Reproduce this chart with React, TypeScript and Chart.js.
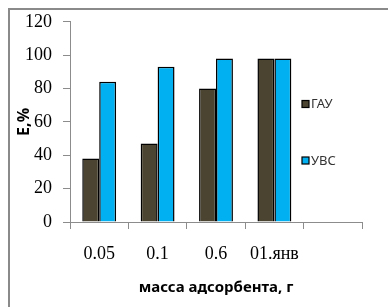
import React, { useEffect, useRef } from "react";
import { Chart, registerables } from "chart.js";

Chart.register(...registerables);

const categories = ["0.05", "0.1", "0.6", "01.янв", ""];
const gauValues = [38, 47, 80, 98, null];
const uvsValues = [84, 93, 98, 98, null];
const seriesNames = ["ГАУ", "УВС"];
const yTicks = [0, 20, 40, 60, 80, 100, 120];

const legendPlugin = {
  id: "insideLegend",
  afterDraw(chart: any) {
    const ctx = chart.ctx;
    const ys = [104.5, 161];
    ctx.save();
    chart.data.datasets.forEach((ds: any, i: number) => {
      const y = ys[i];
      ctx.fillStyle = ds.backgroundColor;
      ctx.fillRect(302, y - 4, 7, 7);
      ctx.strokeStyle = "#000";
      ctx.lineWidth = 1.2;
      ctx.strokeRect(302, y - 4, 7, 7);
      ctx.fillStyle = "#333";
      ctx.font = "13px 'Noto Sans'";
      ctx.textBaseline = "middle";
      ctx.textAlign = "left";
      ctx.fillText(ds.label, 311, y);
    });
    ctx.restore();
  },
};

export default function App() {
  const ref = useRef<HTMLCanvasElement>(null);
  useEffect(() => {
    if (!ref.current) return;
    const chart = new Chart(ref.current, {
      type: "bar",
      data: {
        labels: categories,
        datasets: [
          {
            label: seriesNames[0],
            data: gauValues,
            backgroundColor: "#4a4430",
            borderColor: "#000",
            borderWidth: 1.5,
          },
          {
            label: seriesNames[1],
            data: uvsValues,
            backgroundColor: "#00b0f0",
            borderColor: "#000",
            borderWidth: 1.5,
          },
        ],
      },
      options: {
        animation: false,
        responsive: false,
        devicePixelRatio: 1,
        layout: { padding: { left: 0, top: 21, right: 26, bottom: 0 } },
        datasets: { bar: { categoryPercentage: 0.58, barPercentage: 1 } },
        plugins: { legend: { display: false }, tooltip: { enabled: false } },
        scales: {
          x: {
            afterFit: (s: any) => {
              s.height = 85;
            },
            grid: {
              offset: true,
              drawOnChartArea: false,
              drawTicks: true,
              tickLength: 7,
              color: "#8c8c8c",
            },
            border: { color: "#8c8c8c", width: 1 },
            ticks: {
              color: "#000",
              padding: 14,
              font: { family: "'Liberation Serif'", size: 18 },
              maxRotation: 0,
              autoSkip: false,
            },
            title: {
              display: true,
              text: "масса адсорбента, г",
              color: "#000",
              font: { family: "'Noto Sans'", size: 15, weight: "bold" },
              padding: { top: 0, bottom: 10 },
            },
          },
          y: {
            min: 0,
            max: 120,
            afterFit: (s: any) => {
              s.width = 70;
            },
            afterBuildTicks: (s: any) => {
              s.ticks = yTicks.map((v) => ({ value: v }));
            },
            grid: {
              drawOnChartArea: false,
              drawTicks: true,
              tickLength: 7,
              color: "#8c8c8c",
            },
            border: { color: "#8c8c8c", width: 1 },
            ticks: {
              color: "#000",
              padding: 11,
              font: { family: "'Liberation Serif'", size: 18 },
            },
            title: {
              display: true,
              text: "E,%",
              color: "#000",
              font: { family: "'Noto Sans'", size: 16, weight: "bold" },
              padding: { top: 15, bottom: 0 },
            },
          },
        },
      },
      plugins: [legendPlugin],
    });
    return () => chart.destroy();
  }, []);
  return (
    <>
      <canvas
        ref={ref}
        width={388}
        height={307}
        style={{ position: "fixed", left: 0, top: 0, width: 388, height: 307 }}
      />
      <div
        style={{
          position: "fixed",
          left: 8,
          top: 8,
          width: 400,
          height: 320,
          borderTop: "2px solid #8a8a8a",
          borderLeft: "2px solid #8a8a8a",
          pointerEvents: "none",
        }}
      />
    </>
  );
}
